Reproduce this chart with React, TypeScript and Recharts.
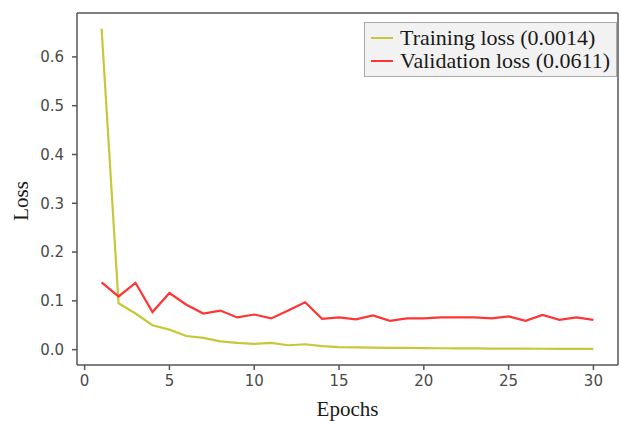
import React from 'react';
import { LineChart, Line, XAxis, YAxis, Legend } from 'recharts';

const epochs = [1, 2, 3, 4, 5, 6, 7, 8, 9, 10, 11, 12, 13, 14, 15, 16, 17, 18, 19, 20, 21, 22, 23, 24, 25, 26, 27, 28, 29, 30];
const trainingLoss = [0.658, 0.095, 0.074, 0.05, 0.041, 0.028, 0.024, 0.017, 0.014, 0.012, 0.014, 0.009, 0.011, 0.007, 0.005, 0.0045, 0.004, 0.0037, 0.0034, 0.003, 0.0028, 0.0026, 0.0024, 0.0022, 0.002, 0.0019, 0.0018, 0.0016, 0.0015, 0.0014];
const validationLoss = [0.138, 0.109, 0.137, 0.077, 0.116, 0.092, 0.074, 0.08, 0.066, 0.072, 0.064, 0.08, 0.097, 0.063, 0.066, 0.062, 0.07, 0.059, 0.064, 0.064, 0.066, 0.066, 0.066, 0.064, 0.068, 0.059, 0.071, 0.061, 0.066, 0.0611];
const xTicks = [0, 5, 10, 15, 20, 25, 30];
const yTicks = [0, 0.1, 0.2, 0.3, 0.4, 0.5, 0.6];

const data = epochs.map((epoch, i) => ({
  epoch,
  train: trainingLoss[i],
  val: validationLoss[i],
}));

const AXIS = '#555';
const TICK_FONT = { fontFamily: '"DejaVu Sans", sans-serif', fontSize: 15, fill: '#4a4a4a' };
const SERIF = '"Liberation Serif", "Times New Roman", serif';
const X_DOMAIN: [number, number] = [-0.45, 31.45];
const Y_DOMAIN: [number, number] = [-0.0315, 0.69];

function LegendBox({ payload }: any) {
  return (
    <div
      style={{
        background: '#f2f2f2',
        border: '1px solid #aaa',
        padding: '3px 6px 4px 6px',
        fontFamily: SERIF,
        fontSize: 22,
        color: '#1a1a1a',
        lineHeight: '23px',
      }}
    >
      {(payload || []).map((p: any) => (
        <div key={p.value} style={{ display: 'flex', alignItems: 'center', whiteSpace: 'nowrap' }}>
          <span style={{ display: 'inline-block', width: 22, height: 2, background: p.color, marginRight: 7 }} />
          {p.value}
        </div>
      ))}
    </div>
  );
}

export default function App() {
  return (
    <div style={{ position: 'absolute', left: 0, top: 0, width: 621, height: 421, background: '#fff' }}>
      <LineChart width={621} height={421} data={data} margin={{ top: 12, right: 2, left: 0, bottom: 0 }}>
        <XAxis
          dataKey="epoch"
          type="number"
          domain={X_DOMAIN}
          ticks={xTicks}
          allowDataOverflow
          height={56}
          stroke={AXIS}
          strokeWidth={1.5}
          tickSize={5}
          tickMargin={5}
          tick={TICK_FONT}
          label={({ viewBox }: any) => (
            <text x={viewBox.x + viewBox.width / 2} y={416} textAnchor="middle" fontFamily={SERIF} fontSize={21} fill="#1a1a1a">
              Epochs
            </text>
          )}
        />
        <XAxis xAxisId="top" orientation="top" type="number" domain={X_DOMAIN} height={1} tick={false} tickLine={false} stroke={AXIS} strokeWidth={1.5} />
        <YAxis
          type="number"
          domain={Y_DOMAIN}
          ticks={yTicks}
          allowDataOverflow
          width={77}
          stroke={AXIS}
          strokeWidth={1.5}
          tickSize={5}
          tickMargin={8}
          tick={TICK_FONT}
          tickFormatter={(v: number) => v.toFixed(1)}
          label={() => (
            <text x={28} y={201} transform="rotate(-90 28 201)" textAnchor="middle" fontFamily={SERIF} fontSize={21} fill="#1a1a1a">
              Loss
            </text>
          )}
        />
        <YAxis yAxisId="right" orientation="right" type="number" domain={Y_DOMAIN} width={1} tick={false} tickLine={false} stroke={AXIS} strokeWidth={1.5} />
        <Line dataKey="train" name="Training loss (0.0014)" stroke="#c6c83a" strokeWidth={2.2} dot={false} isAnimationActive={false} />
        <Line dataKey="val" name="Validation loss (0.0611)" stroke="#ff3535" strokeWidth={2.2} dot={false} isAnimationActive={false} />
        <Legend
          layout="horizontal"
          verticalAlign="middle"
          align="center"
          content={<LegendBox />}
          wrapperStyle={{ left: 364, top: 22, width: 'auto', bottom: 'auto', right: 'auto' }}
        />
      </LineChart>
    </div>
  );
}
